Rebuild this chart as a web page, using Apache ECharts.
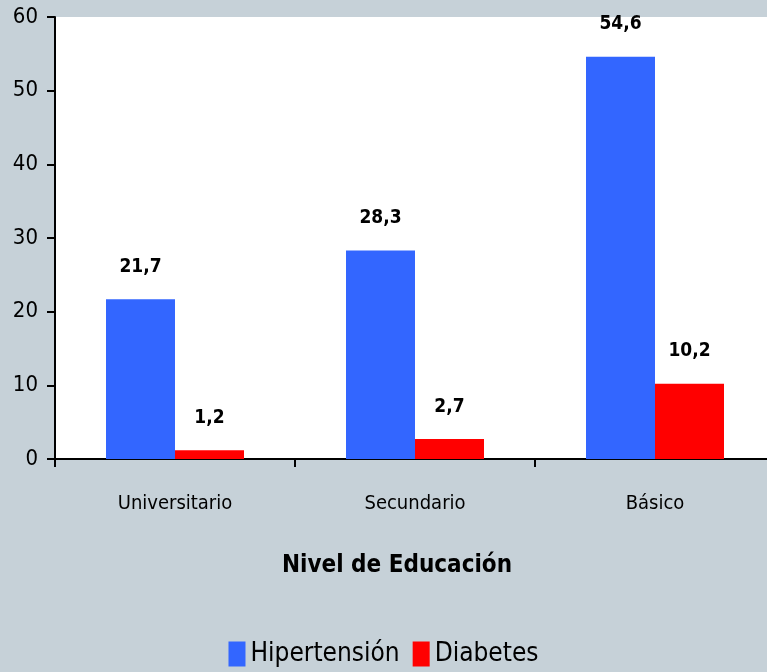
<!DOCTYPE html>
<html><head><meta charset="utf-8">
<script src="https://cdn.jsdelivr.net/npm/echarts@6/dist/echarts.min.js"></script>
<style>html,body{margin:0;padding:0;background:#c6d1d8;}#c{width:767px;height:672px;}</style>
</head><body><div id="c"></div>
<script>
var categories = ['Universitario', 'Secundario', 'Básico'];
var hipertension = [21.7, 28.3, 54.6];
var diabetes = [1.2, 2.7, 10.2];
var yTicks = [0, 10, 20, 30, 40, 50, 60];
var F = '"DejaVu Sans Condensed", "Liberation Sans Narrow", sans-serif';
var chart = echarts.init(document.getElementById('c'));
var lbl = {show: true, position: 'top', distance: 23, fontFamily: F, fontWeight: 'bold', fontSize: 19, color: '#000',
  formatter: function(p){ return String(p.value).replace('.', ','); }};
chart.setOption({
  backgroundColor: '#c6d1d8',
  animation: false,
  textStyle: {fontFamily: F},
  legend: {bottom: 0, left: 'center', icon: 'rect', itemWidth: 17, itemHeight: 25, itemGap: 13,
    textStyle: {fontFamily: F, fontSize: 26, color: '#000'},
    data: ['Hipertensión', 'Diabetes']},
  grid: {left: 55, top: 17, width: 720, height: 442, backgroundColor: '#fff', show: true, borderWidth: 0,
    outerBoundsMode: 'none', containLabel: false},
  xAxis: {type: 'category', data: categories,
    axisLine: {lineStyle: {color: '#000', width: 2}},
    axisTick: {show: true, length: 8, lineStyle: {color: '#000', width: 2}},
    axisLabel: {fontFamily: F, fontSize: 20, color: '#000', margin: 35},
    name: 'Nivel de Educación', nameLocation: 'middle', nameGap: 95,
    nameTextStyle: {fontFamily: F, fontSize: 24, fontWeight: 'bold', color: '#000', padding: [0, 0, 0, -36]}},
  yAxis: {type: 'value', min: 0, max: 60, interval: 10,
    axisLine: {show: true, lineStyle: {color: '#000', width: 2}},
    axisTick: {show: true, length: 8, lineStyle: {color: '#000', width: 2}},
    splitLine: {show: false},
    axisLabel: {fontFamily: F, fontSize: 22, color: '#000', margin: 17,
      formatter: function(v){ return yTicks.indexOf(v) >= 0 ? String(v) : ''; }}},
  series: [
    {name: 'Hipertensión', type: 'bar', data: hipertension, barWidth: 69, barGap: '0%',
      itemStyle: {color: '#3366ff'}, label: lbl},
    {name: 'Diabetes', type: 'bar', data: diabetes, barWidth: 69,
      itemStyle: {color: '#ff0000'}, label: lbl}
  ]
});
</script></body></html>
